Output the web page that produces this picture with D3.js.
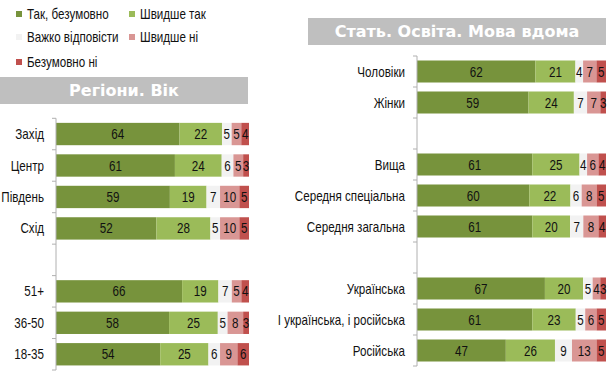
<!DOCTYPE html>
<html><head><meta charset="utf-8">
<script src="https://cdn.jsdelivr.net/npm/d3@7"></script>
<style>body{margin:0;background:#fff;}svg{display:block;font-family:"Liberation Sans",Arial,sans-serif;}</style>
</head><body><svg id="c" width="610" height="371"></svg>
<script>
const seriesNames = ["Так, безумовно","Швидше так","Важко відповісти","Швидше ні","Безумовно ні"];
const colors = ["#77933c","#9bbb59","#f2f2f2","#d99694","#c0504d"];

const leftCats = ["Захід","Центр","Південь","Схід","","51+","36-50","18-35"];
const leftVals = [[64,22,5,5,4],[61,24,6,5,3],[59,19,7,10,5],[52,28,5,10,5],null,[66,19,7,5,4],[58,25,5,8,3],[54,25,6,9,6]];

const rightCats = ["Чоловіки","Жінки","","Вища","Середня спеціальна","Середня загальна","","Українська","І українська, і російська","Російська"];
const rightVals = [[62,21,4,7,5],[59,24,7,7,3],null,[61,25,4,6,4],[60,22,6,8,5],[61,20,7,8,4],null,[67,20,5,4,3],[61,23,5,6,5],[47,26,9,13,5]];

const leftTitle = "Регіони. Вік";
const rightTitle = "Стать. Освіта. Мова вдома";

const FS = 14, SX = 0.83;
const svg = d3.select("#c");

function ntext(parent, x, y, txt, anchor){
  return parent.append("text").attr("transform",`translate(${x},${y}) scale(${SX},1)`)
    .attr("dy","0.36em").attr("text-anchor",anchor||"start").attr("font-size",FS).attr("fill","#111").text(txt);
}

// legend
const legPos = [[16,14],[129,14],[16,37],[129,37],[16,62]];
seriesNames.forEach((s,i)=>{
  const g = svg.append("g").attr("transform",`translate(${legPos[i][0]},${legPos[i][1]})`);
  g.append("rect").attr("x",0).attr("y",-3).attr("width",6).attr("height",6).attr("fill",colors[i]);
  ntext(g, 11, 0, s);
});

function header(x0,x1,y0,y1,txt){
  svg.append("rect").attr("x",x0).attr("y",y0).attr("width",x1-x0).attr("height",y1-y0).attr("fill","#bfbfbf");
  svg.append("text").attr("x",(x0+x1)/2).attr("y",(y0+y1)/2).attr("dy","0.36em").attr("text-anchor","middle")
    .attr("font-family","'DejaVu Sans',sans-serif").attr("font-weight","bold").attr("font-size",16).attr("fill","#fff").text(txt);
}
header(0,248,77,104,leftTitle);
header(308,606,18,45,rightTitle);

function panel(cats, vals, x0, x1, y0, y1){
  const ids = cats.map((c,i)=>"k"+i);
  const y = d3.scaleBand().domain(ids).range([y0,y1]).paddingInner(0.29).paddingOuter(0.145);
  const x = d3.scaleLinear().domain([0,1]).range([x0,x1]);
  const rows = vals.map((v,i)=>{const o={id:ids[i]}; seriesNames.forEach((s,j)=>o[s]=v?v[j]:0); o.valid=!!v; return o;});
  const stack = d3.stack().keys(seriesNames).offset(d3.stackOffsetExpand)(rows.filter(r=>r.valid));
  const g = svg.append("g");
  stack.forEach((layer,j)=>{
    layer.forEach(d=>{
      g.append("rect").attr("x",x(d[0])).attr("y",y(d.data.id)).attr("width",x(d[1])-x(d[0])).attr("height",y.bandwidth()).attr("fill",colors[j]);
    });
  });
  stack.forEach((layer,j)=>{
    layer.forEach(d=>{
      ntext(g,(x(d[0])+x(d[1]))/2, y(d.data.id)+y.bandwidth()/2, d.data[seriesNames[j]], "middle");
    });
  });
  // axis
  g.append("line").attr("x1",x0).attr("x2",x0).attr("y1",y0).attr("y2",y1).attr("stroke","#b0b0b0");
  for(let i=0;i<=ids.length;i++){
    const ty = y0 + i*y.step();
    g.append("line").attr("x1",x0-4).attr("x2",x0).attr("y1",ty).attr("y2",ty).attr("stroke","#b0b0b0");
  }
  cats.forEach((c,i)=>{
    if(!c) return;
    ntext(g, x0-12, y(ids[i])+y.bandwidth()/2, c, "end");
  });
}
panel(leftCats,leftVals,56,249,118.3,370);
panel(rightCats,rightVals,417,606,56,366);
</script></body></html>
